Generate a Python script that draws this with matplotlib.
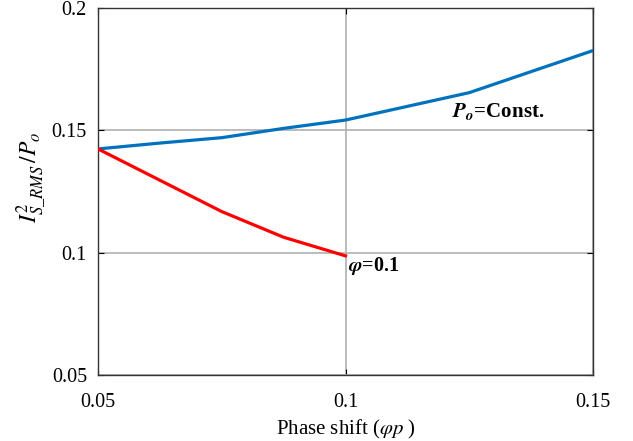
import matplotlib
matplotlib.use("Agg")
import matplotlib.pyplot as plt

plt.rcParams['font.family'] = ['Liberation Serif', 'DejaVu Serif']
plt.rcParams['mathtext.fontset'] = 'stix'

blue_x = [0.05, 0.0625, 0.075, 0.0875, 0.1, 0.125, 0.15]
blue_y = [0.1424, 0.1448, 0.1470, 0.1508, 0.1542, 0.1654, 0.1826]
red_x = [0.05, 0.075, 0.0875, 0.1]
red_y = [0.1424, 0.1168, 0.1063, 0.0987]
xticks = [0.05, 0.1, 0.15]
yticks = [0.05, 0.1, 0.15, 0.2]

fig = plt.figure(figsize=(6.33, 4.41), dpi=100)
ax = fig.add_axes([98/633, 1-375/441, (593-98)/633, (375-8)/441])

ax.plot(blue_x, blue_y, color='#0072BD', lw=2.3, zorder=3)
ax.plot(red_x, red_y, color='#FF0000', lw=2.3, zorder=3)

ax.set_xlim(0.05, 0.15)
ax.set_ylim(0.05, 0.2)
ax.set_xticks(xticks)
ax.set_xticklabels(['0.05', '0.1', '0.15'])
ax.set_yticks(yticks)
ax.set_yticklabels(['0.05', '0.1', '0.15', '0.2'])
ax.grid(True, color='#b0b0b0', lw=1.2)
ax.tick_params(direction='in', length=4, width=0.8, labelsize=14.5, top=True, right=True)
ax.tick_params(axis='x', pad=13)
ax.tick_params(axis='y', pad=8)
for s in ax.spines.values():
    s.set_linewidth(1.0)
    s.set_color('#333333')

ax.set_xlabel(r'Phase shift ($\varphi p$ )', fontsize=15, labelpad=4)
ax.set_ylabel(r'$I^{2}_{S\_RMS}\,/P_{o}$', fontsize=17)
ax.yaxis.set_label_coords(-0.1, 0.54)

ax.text(0.1215, 0.1555, r'$\mathbfit{P_o}$=Const.', fontsize=15, fontweight='bold')
ax.text(0.1005, 0.0925, r'$\mathbfit{\varphi}$=0.1', fontsize=14.5, fontweight='bold')

fig.savefig('out.png', dpi=100)
